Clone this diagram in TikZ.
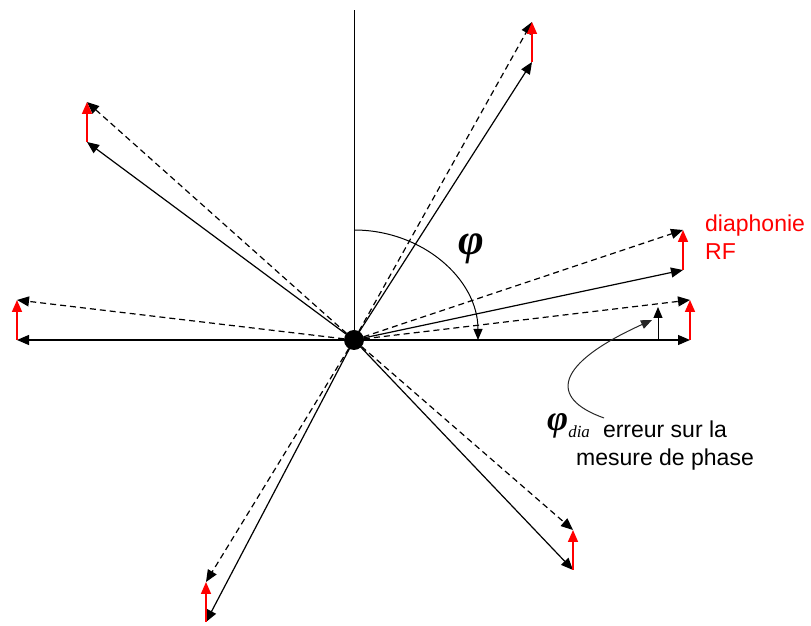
\documentclass[tikz,border=0pt]{standalone}
\usepackage{fontspec}
\setmainfont{Liberation Sans}
\newfontfamily\phifont{Liberation Serif}
\usetikzlibrary{arrows.meta, calc}
\definecolor{diared}{HTML}{FF0000}

\begin{document}
\begin{tikzpicture}[
    x=1pt, y=1pt,
    vec/.style={-{Triangle[length=12pt,width=10pt]}, line width=1.2pt, black},
    vecdash/.style={vec, dash pattern=on 6pt off 4pt},
    xtalk/.style={-{Triangle[length=12pt,width=10pt]}, line width=1.6pt, diared},
    thinarr/.style={-{Triangle[length=11pt,width=9pt]}, line width=1pt, black},
    lbl/.style={inner sep=0pt, font=\fontsize{23}{28}\selectfont},
    greek/.style={inner sep=0pt, anchor=base west, font=\phifont\bfseries\itshape}
]
\useasboundingbox (0,0) rectangle (811,626);

% --- Origin and axis ---
\coordinate (O) at (354,286);
\coordinate (top) at (354,616);
\draw[line width=1pt] (O) -- (top);

% --- Phasors with crosstalk ---
\foreach \n/\sx/\sy in {a/532/564, b/87/484, c/17/286, d/690/286,
                        e/683/356, f/573/56, g/206/4} {
  \coordinate (s\n) at (\sx,\sy);
  \coordinate (r\n) at (\sx,\sy+40);
  \draw[vec] (O) -- (s\n);
  \draw[vecdash] (O) -- (r\n);
  \draw[xtalk] (s\n) -- (r\n);
}

% --- Phase angle ---
\draw[thinarr] ($(O)+(0,110)$) arc[start angle=90, end angle=0,
      x radius=124, y radius=110];
\node[greek] (phi) at (458,371) {\fontsize{44}{44}\selectfont φ};

% --- Phase error ---
\coordinate (pd) at (658,286);
\coordinate (pdtop) at (658,319);
\draw[thinarr] (pd) -- (pdtop);
\coordinate (cstart) at (604,208);
\coordinate (ctip) at (652,306);
\draw[thinarr, black!85] (cstart) .. controls (548,228) and (555,262) .. (ctip);

\node[greek] (phidia) at (547,195)
      {\fontsize{36}{36}\selectfont φ\raisebox{-7pt}{\fontsize{17}{17}\selectfont\mdseries dia}};
\node[lbl, align=center, anchor=north] (err) at (665,205)
      {erreur sur la\\mesure de phase};
\node[lbl, text=diared, align=left, anchor=north west] (diaph) at (705,411)
      {diaphonie\\RF};

% --- Centre dot ---
\fill (O) circle[radius=10];
\end{tikzpicture}
\end{document}
